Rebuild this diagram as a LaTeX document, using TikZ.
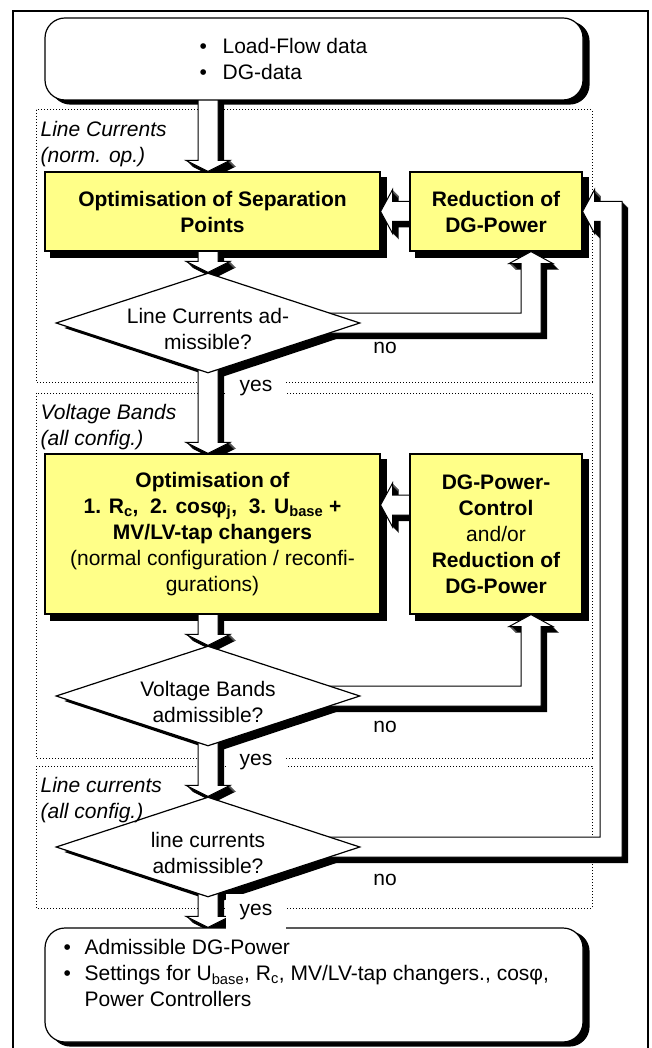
\documentclass[tikz,border=0pt]{standalone}
\usepackage{fontspec}
\setmainfont{Liberation Sans}
\usetikzlibrary{calc,shapes.geometric}

\definecolor{taskyellow}{RGB}{255,255,136}
\newcommand\chartfont{\fontsize{21}{26}\selectfont}

\pgfdeclarelayer{shade}
\pgfdeclarelayer{flow}
\pgfsetlayers{shade,flow,main}

\tikzset{
    io box/.style = {
        draw,
        fill = white,
        rounded corners = 20pt,
        minimum width = 538pt,
        inner sep = 0pt,
        },
    io text/.style = {
        anchor = north west,
        align = left,
        inner sep = 0pt,
        },
    task/.style = {
        draw,
        fill = taskyellow,
        align = center,
        inner sep = 0pt,
        },
    question/.style = {
        diamond,
        draw,
        fill = white,
        minimum width = 304pt,
        minimum height = 100pt,
        inner sep = 0pt,
        },
    question text/.style = {
        align = center,
        inner sep = 0pt,
        },
    zone/.style = {
        dash pattern = on 1pt off 2pt,
        line width = 1pt,
        },
    zone label/.style = {
        anchor = north west,
        align = left,
        inner sep = 0pt,
        font = \chartfont\itshape,
        },
    answer/.style = {
        inner sep = 0pt,
        },
    yes box/.style = {
        fill = white,
        inner xsep = 14pt,
        inner ysep = 4pt,
        },
    flowdepth/.style = {
        fill = black,
        },
    flowface/.style = {
        draw,
        fill = white,
        line width = 1pt,
        },
}

% black extrusion first, white face last
\newcommand\depthsteps{6/flowdepth,5/flowdepth,4/flowdepth,3/flowdepth,2/flowdepth,1/flowdepth,0/flowface}

% #1 source, #2 tip (straight down)
\newcommand\downflow[2]{%
  \foreach \sh/\look in \depthsteps
    \path[\look] ($(#2|-#1)+(-10+\sh,-12+\sh)$) -- ($(#2)+(-10+\sh,-11+\sh)$)
      -- ($(#2)+(-22+\sh,-11+\sh)$) -- ($(#2)+(\sh,\sh)$) -- ($(#2)+(22+\sh,-11+\sh)$)
      -- ($(#2)+(10+\sh,-11+\sh)$) -- ($(#2|-#1)+(10+\sh,-12+\sh)$) -- cycle;}

% #1 source, #2 tip (straight left)
\newcommand\leftflow[2]{%
  \foreach \sh/\look in \depthsteps
    \path[\look] ($(#1|-#2)+(12+\sh,-10+\sh)$) -- ($(#2)+(12+\sh,-10+\sh)$)
      -- ($(#2)+(12+\sh,-22+\sh)$) -- ($(#2)+(\sh,\sh)$) -- ($(#2)+(12+\sh,22+\sh)$)
      -- ($(#2)+(12+\sh,10+\sh)$) -- ($(#1|-#2)+(12+\sh,10+\sh)$) -- cycle;}

% #1 decision, #2 tip under a box (right, then up)
\newcommand\riseflow[2]{%
  \foreach \sh/\look in \depthsteps
    \path[\look] ($(#1)+(\sh,-10+\sh)$) -- ($(#2|-#1)+(-10+\sh,-10+\sh)$)
      -- ($(#2)+(-10+\sh,12+\sh)$) -- ($(#2)+(-22+\sh,12+\sh)$) -- ($(#2)+(\sh,\sh)$)
      -- ($(#2)+(22+\sh,12+\sh)$) -- ($(#2)+(10+\sh,12+\sh)$)
      -- ($(#2|-#1)+(10+\sh,10+\sh)$) -- ($(#1)+(\sh,10+\sh)$) -- cycle;}

% #1 decision, #2 bend, #3 tip at a box side (right, up, left)
\newcommand\backflow[3]{%
  \foreach \sh/\look in \depthsteps
    \path[\look] ($(#1)+(\sh,-10+\sh)$) -- ($(#2|-#1)+(-11+\sh,-10+\sh)$)
      -- ($(#2|-#3)+(-11+\sh,10+\sh)$) -- ($(#3)+(12+\sh,10+\sh)$) -- ($(#3)+(12+\sh,22+\sh)$)
      -- ($(#3)+(\sh,\sh)$) -- ($(#3)+(12+\sh,-22+\sh)$) -- ($(#3)+(12+\sh,-10+\sh)$)
      -- ($(#2|-#3)+(11+\sh,-10+\sh)$) -- ($(#2|-#1)+(11+\sh,10+\sh)$) -- ($(#1)+(\sh,10+\sh)$) -- cycle;}

\begin{document}
\begin{tikzpicture}[x=1pt, y=-1pt, line width=1.2pt, font=\chartfont]

            \useasboundingbox (0,0) rectangle (652,1048);

            \node [io box, minimum height=82pt] (data) at (314,59) {};
            \node [io text] (data text) at (199,38)
                {\makebox[23pt][l]{\textbullet}Load-Flow data\\\makebox[23pt][l]{\textbullet}DG-data};

            % line currents, normal operation
            \node [task, minimum width=335pt, minimum height=79pt] (sep) at (212.5,211.5)
                {\textbf{Optimisation of Separation}\\\textbf{Points}};
            \node [task, minimum width=172pt, minimum height=79pt] (cut) at (496,211.5)
                {\textbf{Reduction of}\\\textbf{DG-Power}};
            \node [question] (q1) at (208,323) {};
            \node [question text] (q1 text) at ([yshift=-6pt]q1.center) {Line Currents ad-\\missible?};

            % voltage bands
            \node [task, minimum width=335pt, minimum height=160pt] (volt) at (212.5,534)
                {\textbf{Optimisation of}\\
                 \textbf{1. R\textsubscript{c},~ 2. cosφ\textsubscript{j},~ 3. U\textsubscript{base} +}\\
                 \textbf{MV/LV-tap changers}\\
                 (normal configuration / reconfi-\\
                 gurations)};
            \node [task, minimum width=172pt, minimum height=160pt] (ctrl) at (496,534)
                {\textbf{DG-Power-}\\\textbf{Control}\\and/or\\\textbf{Reduction of}\\\textbf{DG-Power}};
            \node [question] (q2) at (208,696) {};
            \node [question text] (q2 text) at ([yshift=-6pt]q2.center) {Voltage Bands\\admissible?};

            % line currents, all configurations
            \node [question] (q3) at (208,847) {};
            \node [question text] (q3 text) at ([yshift=-6pt]q3.center) {line currents\\admissible?};

            \node [io box, minimum height=114pt] (out) at (314,985) {};
            \node [io text] (out text) at (63,939)
                {\makebox[21pt][l]{\textbullet}Admissible DG-Power\\
                 \makebox[21pt][l]{\textbullet}Settings for U\textsubscript{base}, R\textsubscript{c}, MV/LV-tap changers., cosφ,\\
                 \hspace*{21pt}Power Controllers};

            \node [zone label] (zone1) at (40,121) {Line Currents\\(norm. op.)};
            \node [zone label] (zone2) at (40,404) {Voltage Bands\\(all config.)};
            \node [zone label] (zone3) at (40,777) {Line currents\\(all config.)};

            \node [answer] (no1) at (385,348) {no};
            \node [answer] (no2) at (385,727) {no};
            \node [answer] (no3) at (385,880) {no};
            \node [yes box] (yes1) at (256,388) {yes};
            \node [yes box] (yes2) at (256,762) {yes};
            \node [yes box, inner ysep=10pt] (yes3) at (256,912) {yes};

            \coordinate (axis) at (208,0);
            \coordinate (bend) at (611,0);
            \coordinate (in1) at (axis |- sep.north);
            \coordinate (in2) at (axis |- volt.north);
            \coordinate (in3) at (axis |- out.north);
            \coordinate (in4) at ($(volt.east)+(0,-29)$);
            \coordinate (in5) at ($(cut.south)+(35,0)$);
            \coordinate (in6) at ($(ctrl.south)+(35,0)$);

            \begin{pgfonlayer}{flow}
            \downflow{data.south}{in1}
            \downflow{sep.south}{q1.north}
            \downflow{q1.south}{in2}
            \downflow{volt.south}{q2.north}
            \downflow{q2.south}{q3.north}
            \downflow{q3.south}{in3}
            \leftflow{cut.west}{sep.east}
            \leftflow{ctrl.west}{in4}
            \riseflow{q1.center}{in5}
            \riseflow{q2.center}{in6}
            \backflow{q3.center}{bend}{cut.east}
            \end{pgfonlayer}

            \begin{pgfonlayer}{shade}
            \draw [line width=2pt] (13,1050) -- (13,11) -- (648,11) -- (648,1050);
            \draw [zone] (36,110) rectangle (592,382);
            \draw [zone] (36,393) rectangle (592,758);
            \draw [zone] (36,766) rectangle (592,908);
            \foreach \n in {data,out}
                \fill [rounded corners=20pt] ($(\n.north west)+(6,4)$) rectangle ($(\n.south east)+(6,4)$);
            \foreach \n in {sep,cut,volt,ctrl}
                \fill ($(\n.north west)+(6,6)$) rectangle ($(\n.south east)+(6,6)$);
            \foreach \n in {q1,q2,q3}
                \fill ($(\n.north)+(9,5)$) -- ($(\n.east)+(9,5)$) -- ($(\n.south)+(9,5)$) -- ($(\n.west)+(9,5)$) -- cycle;
            \end{pgfonlayer}
\end{tikzpicture}
\end{document}
